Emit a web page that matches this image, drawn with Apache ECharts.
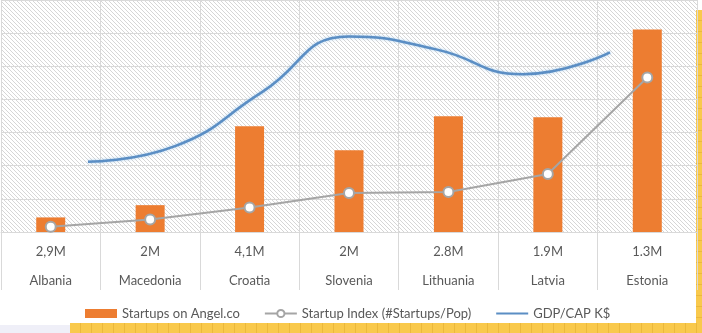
<!DOCTYPE html>
<html>
<head>
<meta charset="utf-8">
<script src="https://cdn.jsdelivr.net/npm/echarts@6/dist/echarts.min.js"></script>
<style>
  html, body { margin: 0; padding: 0; background: #ffffff; }
  #chart { width: 702px; height: 333px; }
</style>
</head>
<body>
<div id="chart"></div>
<script>
// Countries and their population
const categories = ['Albania', 'Macedonia', 'Croatia', 'Slovenia', 'Lithuania', 'Latvia', 'Estonia'];
const population = ['2,9M', '2M', '4,1M', '2M', '2.8M', '1.9M', '1.3M'];

// Series values (chart units)
const startups = [0.44, 0.81, 3.19, 2.47, 3.49, 3.46, 6.11];
const startupIndex = [0.16, 0.38, 0.74, 1.18, 1.21, 1.75, 4.66];
const gdpPerCap = [2.12, 2.59, 4.22, 5.90, 5.51, 4.76, 5.42];

// Diagonal hatch used as the plot background
function hatchPattern() {
  const c = document.createElement('canvas');
  c.width = 4; c.height = 4;
  const g = c.getContext('2d');
  g.fillStyle = '#ffffff';
  g.fillRect(0, 0, 4, 4);
  g.strokeStyle = '#d6d6d6';
  g.lineWidth = 1;
  g.beginPath();
  g.moveTo(-1, -1); g.lineTo(5, 5);
  g.moveTo(-1, 3); g.lineTo(1, 5);
  g.moveTo(3, -1); g.lineTo(5, 1);
  g.stroke();
  return c;
}

// Tiled yellow frame strip
function framePattern(vertical) {
  const c = document.createElement('canvas');
  c.width = 11; c.height = 11;
  const g = c.getContext('2d');
  g.fillStyle = '#f9c94c';
  g.fillRect(0, 0, 11, 11);
  g.fillStyle = '#ebb83c';
  if (vertical) g.fillRect(0, 10, 11, 1); else g.fillRect(10, 0, 1, 11);
  return c;
}

const textColor = '#595959';
const font = 'Lato';

const chart = echarts.init(document.getElementById('chart'), null, { renderer: 'canvas' });

chart.setOption({
  animation: false,
  backgroundColor: '#ffffff',
  grid: {
    left: 1, right: 5, top: 0, bottom: 101,
    show: true,
    borderWidth: 0,
    backgroundColor: { image: hatchPattern(), repeat: 'repeat' }
  },
  xAxis: [
    {
      type: 'category',
      data: categories,
      boundaryGap: true,
      axisLine: { show: true, lineStyle: { color: '#d9d9d9' } },
      axisTick: { show: true, length: 58, lineStyle: { color: '#d9d9d9' } },
      splitLine: { show: true, lineStyle: { color: '#d9d9d9' } },
      axisLabel: {
        margin: 5,
        fontFamily: font,
        fontSize: 13,
        color: textColor,
        lineHeight: 29,
        formatter: function (value, idx) {
          return population[idx] + '\n' + value;
        }
      }
    },
    {
      type: 'value',
      min: -1,
      max: 7,
      show: false
    }
  ],
  yAxis: {
    type: 'value',
    min: 0,
    max: 7,
    interval: 1,
    axisLabel: { show: false },
    axisLine: { show: false },
    axisTick: { show: false },
    splitLine: { show: true, lineStyle: { color: '#d9d9d9' } }
  },
  legend: {
    left: 80,
    top: 302,
    itemGap: 24,
    itemWidth: 32,
    itemHeight: 9,
    textStyle: { fontFamily: font, fontSize: 13, color: textColor },
    data: [
      { name: 'Startups on Angel.co', icon: 'rect' },
      { name: 'Startup Index (#Startups/Pop)' },
      { name: 'GDP/CAP K$', itemStyle: { opacity: 0 } }
    ]
  },
  series: [
    {
      name: 'Startups on Angel.co',
      type: 'bar',
      data: startups,
      barWidth: 29,
      itemStyle: { color: '#ed7d31' },
      z: 2
    },
    {
      name: 'Startup Index (#Startups/Pop)',
      type: 'line',
      data: startupIndex,
      symbol: 'circle',
      symbolSize: 10,
      lineStyle: { color: '#a5a5a5', width: 2 },
      itemStyle: { color: '#ffffff', borderColor: '#a5a5a5', borderWidth: 2 },
      z: 4
    },
    {
      name: 'GDP/CAP K$',
      type: 'line',
      xAxisIndex: 1,
      data: gdpPerCap.map(function (v, i) { return [i, v]; }),
      smooth: 0.5,
      showSymbol: false,
      symbol: 'none',
      lineStyle: { color: '#5b8ec4', width: 2.5, shadowColor: 'rgba(120,180,230,0.6)', shadowBlur: 3 },
      itemStyle: { color: '#5b8ec4' },
      z: 3
    }
  ],
  graphic: [
    { type: 'rect', left: 0, top: 325, shape: { width: 70, height: 8 }, style: { fill: '#efeff8' }, silent: true },
    { type: 'rect', left: 696, top: 10, shape: { width: 6, height: 323 }, style: { fill: { image: framePattern(true), repeat: 'repeat' } }, silent: true },
    { type: 'rect', left: 70, top: 323, shape: { width: 632, height: 10 }, style: { fill: { image: framePattern(false), repeat: 'repeat' } }, silent: true }
  ]
});
</script>
</body>
</html>
